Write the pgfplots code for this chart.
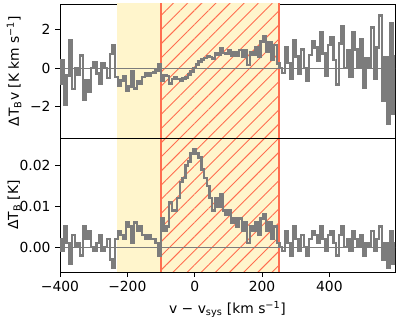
\documentclass[border=0pt]{standalone}
\usepackage{pgfplots}
\pgfplotsset{compat=1.18}
\usepackage{pgfplotstable}
\usepackage{fontspec}
\setmainfont{DejaVu Sans}
\usetikzlibrary{patterns.meta}
\definecolor{spanyellow}{RGB}{255,245,204}
\definecolor{hatchc}{RGB}{255,110,80}
\definecolor{linegray}{RGB}{124,124,124}

\pgfplotstableread{
v T Tv
-400 0.002 -0.80
-392 -0.001 0.39
-384 0.005 -1.92
-376 0.001 -0.38
-368 -0.004 1.47
-360 0.003 -1.08
-352 0.000 0.00
-344 0.001 -0.34
-336 -0.002 0.67
-328 0.005 -1.64
-320 0.002 -0.64
-312 0.004 -1.25
-304 0.000 0.00
-296 -0.001 0.30
-288 0.001 -0.29
-280 0.003 -0.84
-272 -0.001 0.27
-264 0.000 0.00
-256 0.002 -0.51
-248 -0.003 0.74
-240 -0.005 1.20
-232 0.002 -0.46
-224 0.004 -0.90
-216 0.003 -0.65
-208 0.002 -0.42
-200 0.006 -1.20
-192 0.005 -0.96
-184 0.001 -0.18
-176 0.006 -1.06
-168 0.004 -0.67
-160 0.005 -0.80
-152 0.003 -0.46
-144 0.002 -0.29
-136 0.003 -0.41
-128 0.002 -0.26
-120 0.002 -0.24
-112 0.001 -0.11
-104 -0.002 0.21
-96 0.007 -0.67
-88 0.004 -0.35
-80 0.005 -0.40
-72 0.011 -0.79
-64 0.009 -0.58
-56 0.009 -0.50
-48 0.012 -0.58
-40 0.016 -0.64
-32 0.017 -0.54
-24 0.020 -0.48
-16 0.021 -0.34
-8 0.023 -0.18
0 0.024 0.00
8 0.023 0.18
16 0.022 0.35
24 0.019 0.46
32 0.017 0.54
40 0.015 0.60
48 0.012 0.58
56 0.009 0.50
64 0.012 0.77
72 0.010 0.72
80 0.013 1.04
88 0.009 0.79
96 0.008 0.77
104 0.009 0.94
112 0.006 0.67
120 0.007 0.84
128 0.005 0.64
136 0.007 0.95
144 0.004 0.58
152 0.006 0.91
160 0.001 0.16
168 0.005 0.84
176 0.004 0.70
184 0.006 1.10
192 0.003 0.58
200 0.007 1.40
208 0.008 1.66
216 0.004 0.86
224 0.006 1.34
232 0.002 0.46
240 0.005 1.20
248 0.001 0.25
256 0.000 0.00
264 -0.001 -0.26
272 0.004 1.09
280 0.001 0.28
288 -0.002 -0.58
296 0.005 1.48
304 0.002 0.61
312 -0.001 -0.31
320 0.003 0.96
328 0.000 0.00
336 -0.002 -0.67
344 0.002 0.69
352 0.004 1.41
360 0.003 1.08
368 0.001 0.37
376 0.005 1.88
384 0.002 0.77
392 -0.001 -0.39
400 0.003 1.20
408 0.004 1.63
416 0.001 0.42
424 -0.002 -0.85
432 0.003 1.30
440 0.005 2.20
448 0.000 0.00
456 0.002 0.91
464 -0.001 -0.46
472 0.004 1.89
480 0.002 0.96
488 0.000 0.00
496 0.003 1.49
504 -0.002 -1.01
512 0.001 0.51
520 0.000 0.00
528 0.004 2.11
536 -0.001 -0.54
544 0.002 1.09
552 0.005 2.76
560 -0.003 -1.68
568 0.001 0.57
576 -0.005 -2.88
584 0.004 2.34
592 -0.004 -2.37
600 0.001 0.60
}\spec

\pgfplotsset{
  panel/.style={
    scale only axis,
    width=251.25pt,
    height=100.5pt,
    xmin=-400, xmax=595,
    axis line style={line width=0.6pt},
    tick align=outside,
    major tick length=3.6pt,
    xtick pos=bottom, ytick pos=left,
    every tick/.style={black, line width=0.6pt},
    ticklabel style={font=\fontsize{10.4}{12}\selectfont},
    label style={font=\fontsize{10.4}{12}\selectfont},
    ylabel style={at={(axis description cs:-0.137,0.5)}, anchor=center},
    scaled y ticks=false,
    clip=true,
  }
}

\begin{document}
\begin{tikzpicture}
\path[use as bounding box] (-45pt,-34.5pt) rectangle (254.25pt,204pt);
% bottom panel
\begin{axis}[panel,
  at={(0pt,0pt)}, anchor=south west,
  ymin=-0.0061, ymax=0.0268,
  ytick={0,0.01,0.02}, yticklabels={0.00,0.01,0.02},
  xtick={-400,-200,0,200,400}, xticklabels={−400,−200,0,200,400},
  xlabel={v − v\textsubscript{sys} [km s\textsuperscript{−1}]},
  ylabel={ΔT\textsubscript{B} [K]},
]
\addplot[fill=spanyellow, draw=none] coordinates {(-230,-1) (250,-1) (250,1) (-230,1) (-230,-1)};
\addplot[pattern={Lines[angle=45,distance=7.5pt,line width=0.7pt]}, pattern color=hatchc, draw=none] coordinates {(-100,-1) (250,-1) (250,1) (-100,1) (-100,-1)};
\addplot[hatchc, line width=1.1pt] coordinates {(-100,-1) (-100,1)};
\addplot[hatchc, line width=1.1pt] coordinates {(250,-1) (250,1)};
\addplot[linegray, line width=0.8pt] coordinates {(-500,0) (700,0)};
\addplot[const plot mark mid, linegray, line width=1.9pt, mark=none] table[x=v, y=T] {\spec};
\end{axis}
% top panel
\begin{axis}[panel,
  at={(0pt,100.5pt)}, anchor=south west,
  ymin=-3.65, ymax=3.35,
  ytick={-2,0,2}, yticklabels={−2,0,2},
  xtick={-400,-200,0,200,400}, xticklabels={},
  xtick style={draw=none},
  ylabel={ΔT\textsubscript{B}v [K km s\textsuperscript{−1}]},
]
\addplot[fill=spanyellow, draw=none] coordinates {(-230,-10) (250,-10) (250,10) (-230,10) (-230,-10)};
\addplot[pattern={Lines[angle=45,distance=7.5pt,line width=0.7pt]}, pattern color=hatchc, draw=none] coordinates {(-100,-10) (250,-10) (250,10) (-100,10) (-100,-10)};
\addplot[hatchc, line width=1.1pt] coordinates {(-100,-10) (-100,10)};
\addplot[hatchc, line width=1.1pt] coordinates {(250,-10) (250,10)};
\addplot[linegray, line width=0.8pt] coordinates {(-500,0) (700,0)};
\addplot[const plot mark mid, linegray, line width=1.9pt, mark=none] table[x=v, y=Tv] {\spec};
\end{axis}
\end{tikzpicture}
\end{document}
